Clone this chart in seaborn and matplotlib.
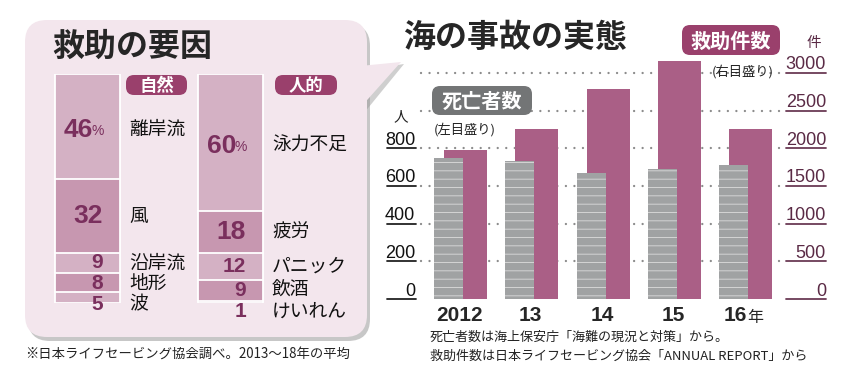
import numpy as np
import pandas as pd
import matplotlib as mpl
mpl.use("Agg")
import matplotlib.pyplot as plt
import seaborn as sns
from matplotlib.patches import FancyBboxPatch, Polygon
from matplotlib.transforms import Affine2D, blended_transform_factory

# ---------------- data ----------------
groups = ["自然", "人的"]
nature_labels = ["離岸流", "風", "沿岸流", "地形", "波"]
nature_pct = [46, 32, 9, 8, 5]
human_labels = ["泳力不足", "疲労", "パニック", "飲酒", "けいれん"]
human_pct = [60, 18, 12, 9, 1]

years = ["2012", "13", "14", "15", "16"]
deaths = [746, 732, 670, 690, 711]          # 死亡者数 (left axis)
rescues = [1970, 2260, 2790, 3160, 2250]    # 救助件数 (right axis)
left_ticks = [0, 200, 400, 600, 800]
right_ticks = [0, 500, 1000, 1500, 2000, 2500, 3000]

# ---------------- style ----------------
W, H = 846, 385
sns.set_style("white")
JP = ["Noto Sans CJK JP", "DejaVu Sans"]
NUM = ["Liberation Sans Narrow", "Liberation Sans", "DejaVu Sans"]
plt.rcParams["font.family"] = JP
plt.rcParams["hatch.linewidth"] = 0.6

MAG = "#9a406c"
NUMCOL = "#7a2f5d"
LIGHT = "#d4b1c4"
DARK = "#c797b0"
BUBBLE = "#f3e6ed"
PINK = "#aa5f86"
GRAY = "#a0a2a3"

fig = plt.figure(figsize=(W / 100, H / 100), dpi=100)
fig.patch.set_facecolor("white")
PX = Affine2D().scale(1 / 100, -1 / 100).translate(0, H / 100) + fig.dpi_scale_trans


def axes_px(x0, y0, x1, y1):
    return fig.add_axes([x0 / W, 1 - y1 / H, (x1 - x0) / W, (y1 - y0) / H])


def ptext(x, y, s, **kw):
    kw.setdefault("zorder", 20)
    return fig.text(x, y, s, transform=PX, **kw)


def pill(x0, y0, x1, y1, color, text, size):
    fig.add_artist(FancyBboxPatch((x0, y0), x1 - x0, y1 - y0,
                                  boxstyle="round,pad=0,rounding_size=8",
                                  transform=PX, fc=color, ec="none", zorder=15))
    ptext((x0 + x1) / 2, (y0 + y1) / 2 + 1, text, color="white", fontsize=size,
          fontweight="bold", ha="center", va="center")


# ---------------- left bubble ----------------
fig.add_artist(Polygon([(364, 70), (404, 64), (364, 113)], closed=True, transform=PX,
                       fc="#a8a8a8", ec="none", alpha=0.55, zorder=0))
fig.add_artist(FancyBboxPatch((28, 24), 342, 317, boxstyle="round,pad=0,rounding_size=22",
                              transform=PX, fc="#9a9a9a", ec="none", alpha=0.55, zorder=0))
fig.add_artist(FancyBboxPatch((25, 20), 342, 317, boxstyle="round,pad=0,rounding_size=22",
                              transform=PX, fc=BUBBLE, ec="none", zorder=0.5))
fig.add_artist(Polygon([(360, 66), (401, 62), (360, 108)], closed=True, transform=PX,
                       fc=BUBBLE, ec="none", zorder=0.6))

ptext(52, 47, "救助の要因", fontsize=23, fontweight="bold", ha="left", va="center")

# stacked bars
axl = axes_px(40, 74, 360, 303)
axl.set_zorder(5)
rows = []
for g, vals in zip(groups, [nature_pct, human_pct]):
    cum = np.cumsum(vals)
    for r, c in enumerate(cum):
        rows.append({"group": g, "rank": f"r{r}", "cum": c})
dfl = pd.DataFrame(rows)
pal = {"r0": LIGHT, "r1": DARK, "r2": LIGHT, "r3": DARK, "r4": LIGHT}
BW = 65 / 143
sns.barplot(data=dfl, x="group", y="cum", hue="rank", order=groups,
            hue_order=["r4", "r3", "r2", "r1", "r0"], palette=pal, dodge=False,
            width=BW, saturation=1, edgecolor="white", linewidth=1.3,
            legend=False, ax=axl)
axl.set_xlim(-(87.5 - 40) / 143, 1 + (360 - 230.5) / 143)
axl.set_ylim(100, 0)
axl.set_axis_off()

PT = 0.72  # points per pixel
for i, (vals, labs) in enumerate(zip([nature_pct, human_pct], [nature_labels, human_labels])):
    cum = np.cumsum(vals)
    prev_y = -100
    for k, (v, lab) in enumerate(zip(vals, labs)):
        yc = cum[k] - v / 2
        yl = max(yc, prev_y + 9)
        prev_y = yl
        xr = i + BW / 2
        big = v >= 15
        fs = 19 if big else 15
        if k == 0:
            axl.annotate(str(v), (xr, yl), xytext=(-27 * PT, -3 * PT), textcoords="offset points",
                         ha="right", va="center", fontsize=fs, fontweight="bold",
                         color=NUMCOL, family=NUM, annotation_clip=False)
            axl.annotate("%", (xr, yl), xytext=(-16 * PT, -4 * PT), textcoords="offset points",
                         ha="right", va="center", fontsize=10, color=NUMCOL, family=NUM,
                         annotation_clip=False)
        else:
            axl.annotate(str(v), (xr, yl), xytext=(-17 * PT, 0), textcoords="offset points",
                         ha="right", va="center", fontsize=fs, fontweight="bold",
                         color=NUMCOL, family=NUM, annotation_clip=False)
        axl.annotate(lab, (xr, yl), xytext=(9 * PT, 0 if k else -3 * PT), textcoords="offset points",
                     ha="left", va="center", fontsize=13.5, color="#111111",
                     annotation_clip=False)

pill(126, 75, 187, 95, MAG, groups[0], 12.5)
pill(275, 75, 337, 95, MAG, groups[1], 12.5)

ptext(25, 354, "※日本ライフセービング協会調べ。2013〜18年の平均", fontsize=9.6,
      ha="left", va="center", color="#222222")

# ---------------- right chart ----------------
ax = axes_px(385, 50.2, 826, 299)
ax2 = ax.twinx()
ax.set_ylim(0, 1320)
ax2.set_ylim(0, 3300)

sns.barplot(x=years, y=rescues, order=years, ax=ax2, color=PINK, width=43 / 71.25,
            saturation=1, linewidth=0)
for p in ax2.patches:
    p.set_x(p.get_x() + 5 / 71.25)
sns.barplot(x=years, y=deaths, order=years, ax=ax, color=GRAY, width=29 / 71.25,
            saturation=1, edgecolor="#dcdcdc", linewidth=0, hatch="--")
for p in ax.patches:
    p.set_x(p.get_x() - 12 / 71.25)

xlo = -(460.5 - 385) / 71.25
xhi = 4 + (826 - 745.5) / 71.25
ax.set_xlim(xlo, xhi)
ax2.set_xlim(xlo, xhi)
ax.set_axis_off()
ax2.set_axis_off()
ax2.set_zorder(1)
ax.set_zorder(2)

span = 826 - 385
fx = lambda px: (px - 385) / span
b1 = blended_transform_factory(ax.transAxes, ax.transData)
b2 = blended_transform_factory(ax2.transAxes, ax2.transData)

for v in right_ticks:
    if v > 0:
        ax2.plot([fx(421), fx(783)], [v, v], transform=b2, color="#8c8c8c", lw=1.7,
                 linestyle=(0, (0.01, 3.6)), dash_capstyle="round", zorder=0.5)
    ax2.plot([fx(786), fx(826)], [v, v], transform=b2, color="#6b3a55", lw=1.3,
             zorder=3, clip_on=False)
    ax2.annotate(str(v), (1.0, v), xycoords=b2, xytext=(0, 2.5), textcoords="offset points",
                 ha="right", va="baseline", fontsize=13, color="#5a2a45", family=NUM,
                 annotation_clip=False)
for v in left_ticks:
    ax.plot([fx(387), fx(416)], [v, v], transform=b1, color="#222222", lw=1.3,
            clip_on=False)
    ax.annotate(str(v), (fx(415), v), xycoords=b1, xytext=(0, 2.5), textcoords="offset points",
                ha="right", va="baseline", fontsize=13, color="#111111", family=NUM,
                annotation_clip=False)

for i, y in enumerate(years):
    if i < len(years) - 1:
        ax.annotate(y, (i, 0), xytext=(-1 * PT, -7 * PT), textcoords="offset points",
                    ha="center", va="top", fontsize=15, fontweight="bold", family=NUM,
                    annotation_clip=False)
    else:
        ax.annotate(y, (i, 0), xytext=(1 * PT, -7 * PT), textcoords="offset points",
                    ha="right", va="top", fontsize=15, fontweight="bold", family=NUM,
                    annotation_clip=False)
        ax.annotate("年", (i, 0), xytext=(2 * PT, -10 * PT), textcoords="offset points",
                    ha="left", va="top", fontsize=11.5, annotation_clip=False)

ptext(403, 38, "海の事故の実態", fontsize=23, fontweight="bold", ha="left", va="center")
pill(682, 25, 780, 55, MAG, "救助件数", 14.5)
pill(432, 86, 532, 115, "#737576", "死亡者数", 14.5)
ptext(712, 72, "(右目盛り)", fontsize=9.5, ha="left", va="center", color="#222222")
ptext(434, 130, "(左目盛り)", fontsize=9.5, ha="left", va="center", color="#222222")
ptext(401, 117, "人", fontsize=10.5, ha="center", va="center", color="#222222")
ptext(814, 43, "件", fontsize=10.5, ha="center", va="center", color="#5a2a45")
ptext(430, 337, "死亡者数は海上保安庁「海難の現況と対策」から。", fontsize=9.4,
      ha="left", va="center", color="#222222")
ptext(430, 356, "救助件数は日本ライフセービング協会「ANNUAL REPORT」から", fontsize=9.4,
      ha="left", va="center", color="#222222")

fig.savefig("out.png", dpi=100, facecolor="white")
